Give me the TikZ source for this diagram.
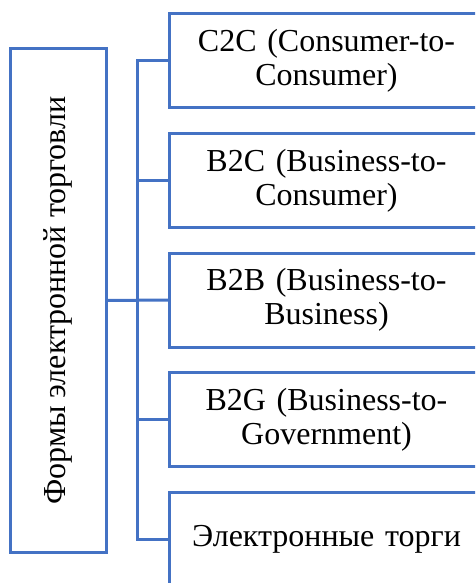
\documentclass[tikz,border=0pt]{standalone}
\usepackage{fontspec}
\setmainfont{Liberation Serif}
\definecolor{boxblue}{RGB}{68,114,196}

\begin{document}
\begin{tikzpicture}[x=1pt,y=-1pt,line cap=butt,line join=miter,
  formbox/.style={draw=boxblue,line width=3pt,minimum width=314pt,minimum height=94pt,
    text width=300pt,align=center,anchor=west,inner sep=0pt,
    font=\fontsize{32}{34}\selectfont},
  link/.style={draw=boxblue,line width=3pt}]
\useasboundingbox (0,0) rectangle (475,583);
\clip (0,0) rectangle (475,583);
\node [draw=boxblue,line width=3pt,rotate=90,minimum width=503pt,minimum height=96pt,
  inner sep=0pt,font=\fontsize{32}{34}\selectfont] (forms) at (58,300.5) {Формы электронной торговли};
\node [formbox] (c2c) at (168,61) {C2C (Consumer-to-\\Consumer)};
\node [formbox] (b2c) at (168,180.5) {B2C (Business-to-\\Consumer)};
\node [formbox] (b2b) at (168,300) {B2B (Business-to-\\Business)};
\node [formbox] (b2g) at (168,419.5) {B2G (Business-to-\\Government)};
\node [formbox] (torgi) at (168,539) {Электронные торги};
\coordinate (bus) at (137,0);
\draw [link] (forms.south) -- (b2b.west);
\draw [link] (c2c.west) -- (c2c.west -| bus) -- (torgi.west -| bus) -- (torgi.west);
\foreach \n in {b2c,b2g}
  \draw [link] (\n.west) -- (\n.west -| bus);
\end{tikzpicture}
\end{document}
